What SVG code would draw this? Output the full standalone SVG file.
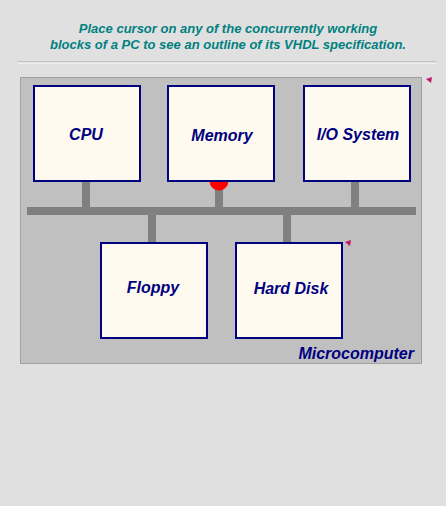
<svg xmlns="http://www.w3.org/2000/svg" width="446" height="506" viewBox="0 0 446 506">
<style>
.box{fill:#fffaf0;stroke:#000080;stroke-width:2}
.lbl{font-family:"Liberation Sans",Arial,sans-serif;font-weight:bold;font-style:italic;font-size:16px;fill:#000080;text-anchor:middle}
.title{font-family:"Liberation Sans",Arial,sans-serif;font-weight:bold;font-style:italic;font-size:13px;fill:#008080;text-anchor:middle}
.bus{fill:#808080}
.mark{fill:#c0186a}
</style>
<rect x="0" y="0" width="446" height="506" fill="#e0e0e0"/>
<text class="title" x="228" y="33">Place cursor on any of the concurrently working</text>
<text class="title" x="228" y="49">blocks of a PC to see an outline of its VHDL specification.</text>
<line x1="18" y1="62" x2="436" y2="62" stroke="#a8a8a8" stroke-width="1"/>
<line x1="18" y1="63" x2="436" y2="63" stroke="#ffffff" stroke-width="1"/>
<rect x="20.5" y="77.5" width="401" height="286" fill="#c0c0c0" stroke="#a0a0a0" stroke-width="1"/>
<polygon class="mark" points="426,79 432,77 431,83"/>
<polygon class="mark" points="345,242 351,240 350,246"/>
<g id="connectors">
<rect class="bus" x="27" y="207" width="389" height="8"/>
<rect class="bus" x="82" y="181" width="8" height="26"/>
<rect class="bus" x="215" y="181" width="8" height="26"/>
<rect class="bus" x="351" y="181" width="8" height="26"/>
<rect class="bus" x="148" y="215" width="8" height="27"/>
<rect class="bus" x="283" y="215" width="8" height="27"/>
<circle cx="219" cy="181" r="9.5" fill="#ff0000"/>
</g>
<g id="cpu"><rect class="box" x="34" y="86" width="106" height="95"/><text class="lbl" x="86" y="140">CPU</text></g>
<g id="memory"><rect class="box" x="168" y="86" width="106" height="95"/><text class="lbl" x="222" y="141">Memory</text></g>
<g id="io"><rect class="box" x="304" y="86" width="106" height="95"/><text class="lbl" x="358" y="140">I/O System</text></g>
<g id="floppy"><rect class="box" x="101" y="243" width="106" height="95"/><text class="lbl" x="153" y="293">Floppy</text></g>
<g id="harddisk"><rect class="box" x="236" y="243" width="106" height="95"/><text class="lbl" x="291" y="294">Hard Disk</text></g>
<g id="microcomputer"><text class="lbl" x="414" y="359" style="text-anchor:end">Microcomputer</text></g>
</svg>
